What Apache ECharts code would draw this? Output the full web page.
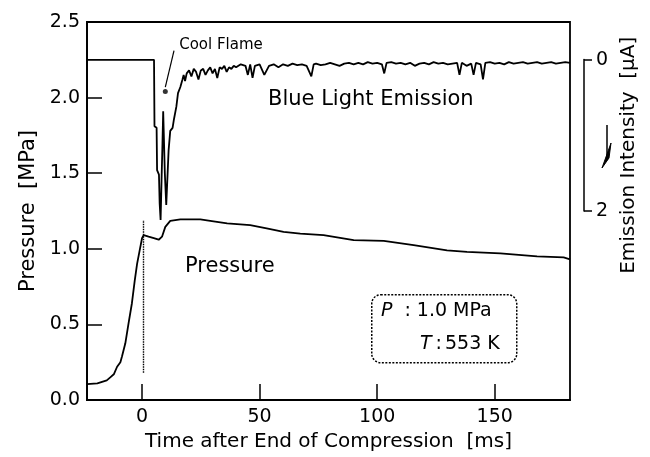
<!DOCTYPE html>
<html>
<head>
<meta charset="utf-8">
<script src="https://cdn.jsdelivr.net/npm/echarts@6/dist/echarts.min.js"></script>
<style>
  html, body { margin: 0; padding: 0; background: #fff; }
  #chart { width: 650px; height: 457px; }
</style>
</head>
<body>
<div id="chart"></div>
<script>
// pressure trace [MPa]
var pressureTime = [-23.4, -19, -15, -13.5, -12, -10.6, -9.2, -8.5, -7.1, -5.7, -4.3, -3.1, -2.1, -1.0, 0, 0.7, 2.8, 5, 7.1, 8.5, 9.9, 12, 16.3, 24.8, 29, 36.2, 46, 53, 60.2, 67.3, 77.2, 90, 102.8, 115.5, 129.7, 138.2, 152.4, 168, 179.3, 182];
var pressure = [0.105, 0.11, 0.13, 0.15, 0.17, 0.22, 0.25, 0.29, 0.375, 0.51, 0.64, 0.79, 0.9, 0.99, 1.07, 1.09, 1.08, 1.07, 1.06, 1.08, 1.145, 1.185, 1.194, 1.194, 1.185, 1.168, 1.157, 1.135, 1.112, 1.10, 1.09, 1.057, 1.053, 1.024, 0.99, 0.98, 0.97, 0.95, 0.943, 0.93];

// blue light emission [uA] (plotted downward)
var emissionTime = [-23.4, 5.1, 5.3, 6.2, 6.4, 7.2, 7.5, 7.9, 8.3, 8.7, 9.0, 9.3, 9.7, 10.3, 10.7, 11.3, 12.0, 13.0, 13.5, 14.6, 15.3, 16.3, 17.2, 17.7, 18.3,
  19, 20, 21, 22, 23, 24, 25, 26, 27, 28, 29, 30, 31, 32, 33, 34, 35, 36, 37, 38, 39, 40, 42, 44, 45, 46, 47, 48, 50, 52, 54, 56, 58, 60, 62, 64, 66, 68, 70, 72, 73, 74, 76, 78, 80, 82, 84, 86, 88, 90, 92, 94, 96, 98, 100, 102, 103, 104, 106, 108, 110, 112, 114, 116, 118, 120, 122, 124, 126, 128, 130, 132, 134, 135, 136, 138, 140, 141, 142, 144, 145, 146, 148, 150, 152, 154, 156, 158, 160, 162, 164, 166, 168, 170, 172, 174, 176, 178, 180, 182];
var emission = [0, 0, 0.88, 0.9, 1.46, 1.52, 1.9, 2.12, 1.6, 1.1, 0.68, 0.7, 1.5, 1.92, 1.9, 1.2, 0.94, 0.9, 0.8, 0.62, 0.44, 0.36, 0.26, 0.2, 0.28,
  0.18, 0.14, 0.22, 0.12, 0.16, 0.26, 0.14, 0.12, 0.2, 0.14, 0.1, 0.18, 0.12, 0.24, 0.1, 0.12, 0.08, 0.16, 0.1, 0.12, 0.08, 0.1, 0.06, 0.08, 0.2, 0.06, 0.24, 0.08, 0.06, 0.2, 0.08, 0.06, 0.1, 0.06, 0.08, 0.05, 0.07, 0.06, 0.08, 0.22, 0.06, 0.05, 0.07, 0.06, 0.04, 0.06, 0.08, 0.05, 0.04, 0.06, 0.04, 0.06, 0.03, 0.05, 0.04, 0.06, 0.18, 0.04, 0.03, 0.05, 0.04, 0.06, 0.04, 0.08, 0.05, 0.04, 0.06, 0.03, 0.05, 0.04, 0.06, 0.05, 0.04, 0.2, 0.04, 0.08, 0.05, 0.2, 0.04, 0.06, 0.26, 0.04, 0.03, 0.05, 0.04, 0.06, 0.03, 0.05, 0.04, 0.03, 0.05, 0.04, 0.03, 0.05, 0.04, 0.03, 0.05, 0.04, 0.03, 0.04];

var xTicks = [0, 50, 100, 150];
var emissionTicks = [0, 2];

// annotations (data coordinates)
var coolFlameDot = [9.9, 2.04];
var coolFlameLeader = [[9.9, 2.07], [13.6, 2.31]];
var coolFlameText = [15.8, 2.35];
var eocLine = [[0.4, 0.18], [0.4, 1.19]];

var FONT = "'DejaVu Sans', 'Liberation Sans', Arial, sans-serif";

function zip(a, b) {
  return a.map(function (v, i) { return [v, b[i]]; });
}

var chart = echarts.init(document.getElementById("chart"));
var option = {
  animation: false,
  backgroundColor: "#fff",
  textStyle: { fontFamily: FONT, color: "#000" },
  grid: [
    { left: 87, right: 80, top: 22, bottom: 57, show: true, borderColor: "#000", borderWidth: 1.8 },
    { left: 87, right: 66, top: 59.6, height: 151.3 }
  ],
  xAxis: [
    {
      type: "value", gridIndex: 0, min: -23.4, max: 182,
      name: "Time after End of Compression  [ms]", nameLocation: "middle", nameGap: 28,
      nameTextStyle: { fontSize: 20, fontFamily: FONT, color: "#000" },
      axisLine: { onZero: false, lineStyle: { color: "#000", width: 1.8 } },
      axisTick: { inside: true, length: 16, customValues: xTicks, lineStyle: { color: "#000", width: 1.5 } },
      axisLabel: { customValues: xTicks, fontSize: 19, color: "#000", margin: 8, fontFamily: FONT },
      splitLine: { show: false }
    },
    { type: "value", gridIndex: 1, show: false, min: 0, max: 1, axisLine: { onZero: false } }
  ],
  yAxis: [
    {
      type: "value", gridIndex: 0, min: 0, max: 2.5, interval: 0.5,
      name: "Pressure  [MPa]", nameLocation: "middle", nameGap: 48,
      nameTextStyle: { fontSize: 21, fontFamily: FONT, color: "#000" },
      axisLine: { onZero: false, lineStyle: { color: "#000", width: 1.8 } },
      axisTick: { inside: true, length: 15, lineStyle: { color: "#000", width: 1.5 } },
      axisLabel: { fontSize: 19, color: "#000", margin: 7, fontFamily: FONT,
        formatter: function (v) { return v.toFixed(1); } },
      splitLine: { show: false }
    },
    {
      type: "value", gridIndex: 0, position: "right", show: false,
      inverse: true, min: -0.5, max: 4.5, axisLine: { onZero: false }
    },
    {
      type: "value", gridIndex: 1, position: "right", inverse: true, min: 0, max: 2, interval: 2,
      name: "Emission Intensity  [\u03bcA]", nameLocation: "middle", nameGap: 32,
      nameTextStyle: { fontSize: 20, fontFamily: FONT, color: "#000", padding: [0, 40, 0, 0] },
      axisLine: { show: true, onZero: false, lineStyle: { color: "#000", width: 1.5 } },
      axisTick: { show: true, length: 8, lineStyle: { color: "#000", width: 1.5 }, customValues: emissionTicks },
      axisLabel: { fontSize: 19, color: "#000", margin: 12, fontFamily: FONT, customValues: emissionTicks },
      splitLine: { show: false }
    }
  ],
  series: [
    {
      name: "Pressure", type: "line", xAxisIndex: 0, yAxisIndex: 0,
      data: zip(pressureTime, pressure), showSymbol: false,
      lineStyle: { color: "#000", width: 1.8 },
      markLine: {
        silent: true, symbol: "none", label: { show: false },
        lineStyle: { color: "#000", type: [1.5, 1], width: 1.4 },
        data: [[{ coord: eocLine[0] }, { coord: eocLine[1] }]]
      }
    },
    {
      name: "Blue Light Emission", type: "line", xAxisIndex: 0, yAxisIndex: 1,
      data: zip(emissionTime, emission), showSymbol: false,
      lineStyle: { color: "#000", width: 1.8 }
    },
    {
      name: "Cool Flame", type: "scatter", xAxisIndex: 0, yAxisIndex: 0,
      data: [coolFlameDot], symbolSize: 5, itemStyle: { color: "#000" },
      markLine: {
        silent: true, symbol: "none", label: { show: false },
        lineStyle: { color: "#000", type: "solid", width: 1.2 },
        data: [[{ coord: coolFlameLeader[0] }, { coord: coolFlameLeader[1] }]]
      },
      markPoint: {
        silent: true, symbol: "circle", symbolSize: 0,
        data: [{ coord: coolFlameText }],
        label: { show: true, position: "right", distance: 0, formatter: "Cool Flame",
          fontSize: 15, color: "#000", fontFamily: FONT }
      }
    }
  ],
  graphic: [
    { type: "text", left: 268, top: 89, style: { text: "Blue Light Emission", font: "21px " + FONT, fill: "#000" } },
    { type: "text", left: 185, top: 256, style: { text: "Pressure", font: "21px " + FONT, fill: "#000" } },
    {
      type: "rect", left: 371, top: 294,
      shape: { width: 145, height: 68, r: 9 },
      style: { fill: "#fff", stroke: "#000", lineWidth: 1.5, lineDash: [2, 1.5] }
    },
    {
      type: "text", left: 381, top: 302,
      style: {
        text: "{i|P}{c|:}1.0 MPa",
        font: "19px " + FONT, fill: "#000",
        rich: {
          i: { fontStyle: "italic", fontSize: 19, fontFamily: FONT },
          c: { fontSize: 19, fontFamily: FONT, padding: [0, 6, 0, 12] }
        }
      }
    },
    {
      type: "text", left: 420, top: 335,
      style: {
        text: "{i|T}{c|:}553 K",
        font: "19px " + FONT, fill: "#000",
        rich: {
          i: { fontStyle: "italic", fontSize: 19, fontFamily: FONT },
          c: { fontSize: 19, fontFamily: FONT, padding: [0, 3, 0, 4] }
        }
      }
    },
    { type: "line", shape: { x1: 607, y1: 125, x2: 607, y2: 160 }, style: { stroke: "#000", lineWidth: 1.5 } },
    { type: "polygon", shape: { points: [[611, 143], [609, 158], [602, 168]] }, style: { fill: "#000", stroke: "#000", lineWidth: 1 } }
  ]
};
chart.setOption(option);
</script>
</body>
</html>
